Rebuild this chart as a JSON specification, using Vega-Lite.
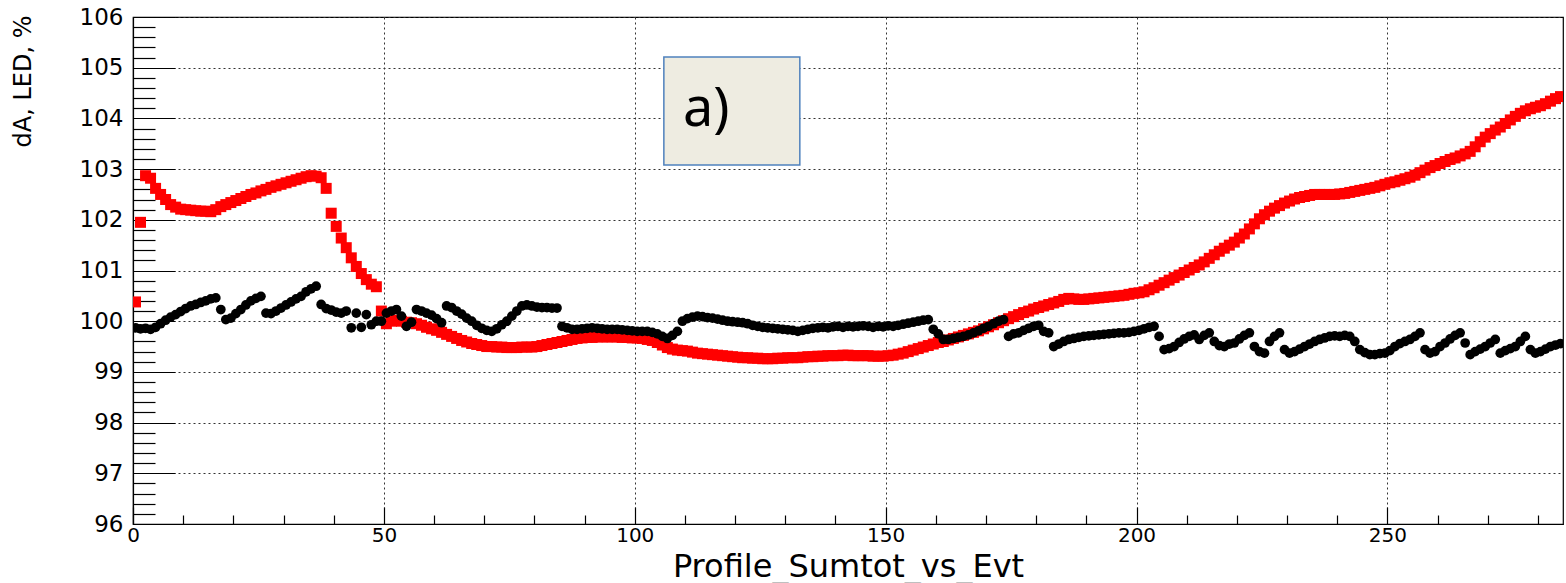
{
  "$schema": "https://vega.github.io/schema/vega-lite/v6.json",
  "autosize": "none",
  "padding": {"left": 133, "top": 17, "right": 3, "bottom": 59},
  "width": 1430,
  "height": 507,
  "background": "white",
  "config": {
    "view": {"stroke": "#000", "strokeWidth": 1.2},
    "axis": {
      "labelFont": "DejaVu Sans",
      "labelFontSize": 23,
      "labelColor": "#000",
      "labelFlush": false,
      "labelOverlap": false,
      "labelBound": false,
      "tickColor": "#000",
      "tickWidth": 1.2,
      "domainColor": "#000",
      "domainWidth": 1.2,
      "gridColor": "#333",
      "gridWidth": 1,
      "gridDash": [2, 3],
      "titleFont": "DejaVu Sans",
      "titleFontWeight": "normal",
      "titleColor": "#000"
    }
  },
  "datasets": {
    "red": [
      {"x":0.5,"v":100.38},{"x":1.5,"v":101.95},{"x":2.5,"v":102.87},{"x":3.5,"v":102.82},{"x":4.5,"v":102.62},{"x":5.5,"v":102.5},{"x":6.5,"v":102.4},{"x":7.5,"v":102.3},{"x":8.5,"v":102.25},{"x":9.5,"v":102.21},
      {"x":10.5,"v":102.2},{"x":11.5,"v":102.19},{"x":12.5,"v":102.18},{"x":13.5,"v":102.17},{"x":14.5,"v":102.17},{"x":15.5,"v":102.16},{"x":16.5,"v":102.2},{"x":17.5,"v":102.26},{"x":18.5,"v":102.3},{"x":19.5,"v":102.34},
      {"x":20.5,"v":102.38},{"x":21.5,"v":102.42},{"x":22.5,"v":102.46},{"x":23.5,"v":102.5},{"x":24.5,"v":102.53},{"x":25.5,"v":102.57},{"x":26.5,"v":102.6},{"x":27.5,"v":102.64},{"x":28.5,"v":102.67},{"x":29.5,"v":102.7},
      {"x":30.5,"v":102.73},{"x":31.5,"v":102.76},{"x":32.5,"v":102.79},{"x":33.5,"v":102.82},{"x":34.5,"v":102.85},{"x":35.5,"v":102.87},{"x":36.5,"v":102.86},{"x":37.5,"v":102.83},{"x":38.5,"v":102.62},{"x":39.5,"v":102.13},
      {"x":40.5,"v":101.87},{"x":41.5,"v":101.64},{"x":42.5,"v":101.45},{"x":43.5,"v":101.25},{"x":44.5,"v":101.08},{"x":45.5,"v":100.94},{"x":46.5,"v":100.82},{"x":47.5,"v":100.73},{"x":48.5,"v":100.68},{"x":49.5,"v":100.2},
      {"x":50.5,"v":99.95},{"x":51.5,"v":100.0},{"x":52.5,"v":100.02},{"x":53.5,"v":100.0},{"x":54.5,"v":99.98},{"x":55.5,"v":99.97},{"x":56.5,"v":99.95},{"x":57.5,"v":99.92},{"x":58.5,"v":99.88},{"x":59.5,"v":99.85},
      {"x":60.5,"v":99.82},{"x":61.5,"v":99.78},{"x":62.5,"v":99.74},{"x":63.5,"v":99.7},{"x":64.5,"v":99.66},{"x":65.5,"v":99.62},{"x":66.5,"v":99.59},{"x":67.5,"v":99.56},{"x":68.5,"v":99.54},{"x":69.5,"v":99.52},
      {"x":70.5,"v":99.5},{"x":71.5,"v":99.5},{"x":72.5,"v":99.49},{"x":73.5,"v":99.49},{"x":74.5,"v":99.48},{"x":75.5,"v":99.48},{"x":76.5,"v":99.48},{"x":77.5,"v":99.49},{"x":78.5,"v":99.49},{"x":79.5,"v":99.49},
      {"x":80.5,"v":99.5},{"x":81.5,"v":99.52},{"x":82.5,"v":99.54},{"x":83.5,"v":99.56},{"x":84.5,"v":99.58},{"x":85.5,"v":99.6},{"x":86.5,"v":99.62},{"x":87.5,"v":99.64},{"x":88.5,"v":99.66},{"x":89.5,"v":99.67},
      {"x":90.5,"v":99.68},{"x":91.5,"v":99.68},{"x":92.5,"v":99.69},{"x":93.5,"v":99.69},{"x":94.5,"v":99.69},{"x":95.5,"v":99.69},{"x":96.5,"v":99.69},{"x":97.5,"v":99.68},{"x":98.5,"v":99.68},{"x":99.5,"v":99.67},
      {"x":100.5,"v":99.67},{"x":101.5,"v":99.66},{"x":102.5,"v":99.64},{"x":103.5,"v":99.62},{"x":104.5,"v":99.58},{"x":105.5,"v":99.53},{"x":106.5,"v":99.48},{"x":107.5,"v":99.45},{"x":108.5,"v":99.43},{"x":109.5,"v":99.42},
      {"x":110.5,"v":99.41},{"x":111.5,"v":99.39},{"x":112.5,"v":99.37},{"x":113.5,"v":99.36},{"x":114.5,"v":99.35},{"x":115.5,"v":99.34},{"x":116.5,"v":99.33},{"x":117.5,"v":99.32},{"x":118.5,"v":99.31},{"x":119.5,"v":99.3},
      {"x":120.5,"v":99.29},{"x":121.5,"v":99.28},{"x":122.5,"v":99.28},{"x":123.5,"v":99.27},{"x":124.5,"v":99.27},{"x":125.5,"v":99.26},{"x":126.5,"v":99.26},{"x":127.5,"v":99.26},{"x":128.5,"v":99.27},{"x":129.5,"v":99.27},
      {"x":130.5,"v":99.28},{"x":131.5,"v":99.28},{"x":132.5,"v":99.28},{"x":133.5,"v":99.29},{"x":134.5,"v":99.3},{"x":135.5,"v":99.3},{"x":136.5,"v":99.31},{"x":137.5,"v":99.31},{"x":138.5,"v":99.32},{"x":139.5,"v":99.32},
      {"x":140.5,"v":99.32},{"x":141.5,"v":99.33},{"x":142.5,"v":99.33},{"x":143.5,"v":99.32},{"x":144.5,"v":99.32},{"x":145.5,"v":99.32},{"x":146.5,"v":99.32},{"x":147.5,"v":99.31},{"x":148.5,"v":99.31},{"x":149.5,"v":99.31},
      {"x":150.5,"v":99.32},{"x":151.5,"v":99.33},{"x":152.5,"v":99.35},{"x":153.5,"v":99.37},{"x":154.5,"v":99.4},{"x":155.5,"v":99.43},{"x":156.5,"v":99.46},{"x":157.5,"v":99.49},{"x":158.5,"v":99.52},{"x":159.5,"v":99.55},
      {"x":160.5,"v":99.58},{"x":161.5,"v":99.6},{"x":162.5,"v":99.63},{"x":163.5,"v":99.66},{"x":164.5,"v":99.69},{"x":165.5,"v":99.72},{"x":166.5,"v":99.75},{"x":167.5,"v":99.78},{"x":168.5,"v":99.81},{"x":169.5,"v":99.85},
      {"x":170.5,"v":99.89},{"x":171.5,"v":99.93},{"x":172.5,"v":99.97},{"x":173.5,"v":100.01},{"x":174.5,"v":100.05},{"x":175.5,"v":100.09},{"x":176.5,"v":100.13},{"x":177.5,"v":100.17},{"x":178.5,"v":100.2},{"x":179.5,"v":100.24},
      {"x":180.5,"v":100.27},{"x":181.5,"v":100.3},{"x":182.5,"v":100.33},{"x":183.5,"v":100.36},{"x":184.5,"v":100.39},{"x":185.5,"v":100.43},{"x":186.5,"v":100.45},{"x":187.5,"v":100.44},{"x":188.5,"v":100.43},{"x":189.5,"v":100.43},
      {"x":190.5,"v":100.44},{"x":191.5,"v":100.45},{"x":192.5,"v":100.46},{"x":193.5,"v":100.47},{"x":194.5,"v":100.48},{"x":195.5,"v":100.49},{"x":196.5,"v":100.5},{"x":197.5,"v":100.51},{"x":198.5,"v":100.53},{"x":199.5,"v":100.55},
      {"x":200.5,"v":100.56},{"x":201.5,"v":100.58},{"x":202.5,"v":100.62},{"x":203.5,"v":100.66},{"x":204.5,"v":100.71},{"x":205.5,"v":100.76},{"x":206.5,"v":100.81},{"x":207.5,"v":100.86},{"x":208.5,"v":100.91},{"x":209.5,"v":100.96},
      {"x":210.5,"v":101.01},{"x":211.5,"v":101.06},{"x":212.5,"v":101.11},{"x":213.5,"v":101.17},{"x":214.5,"v":101.24},{"x":215.5,"v":101.31},{"x":216.5,"v":101.38},{"x":217.5,"v":101.44},{"x":218.5,"v":101.5},{"x":219.5,"v":101.56},
      {"x":220.5,"v":101.64},{"x":221.5,"v":101.72},{"x":222.5,"v":101.82},{"x":223.5,"v":101.92},{"x":224.5,"v":102.02},{"x":225.5,"v":102.1},{"x":226.5,"v":102.17},{"x":227.5,"v":102.23},{"x":228.5,"v":102.28},{"x":229.5,"v":102.33},
      {"x":230.5,"v":102.37},{"x":231.5,"v":102.41},{"x":232.5,"v":102.44},{"x":233.5,"v":102.46},{"x":234.5,"v":102.48},{"x":235.5,"v":102.5},{"x":236.5,"v":102.5},{"x":237.5,"v":102.5},{"x":238.5,"v":102.5},{"x":239.5,"v":102.5},
      {"x":240.5,"v":102.51},{"x":241.5,"v":102.52},{"x":242.5,"v":102.54},{"x":243.5,"v":102.56},{"x":244.5,"v":102.58},{"x":245.5,"v":102.6},{"x":246.5,"v":102.62},{"x":247.5,"v":102.64},{"x":248.5,"v":102.67},{"x":249.5,"v":102.7},
      {"x":250.5,"v":102.73},{"x":251.5,"v":102.75},{"x":252.5,"v":102.78},{"x":253.5,"v":102.81},{"x":254.5,"v":102.84},{"x":255.5,"v":102.88},{"x":256.5,"v":102.93},{"x":257.5,"v":102.98},{"x":258.5,"v":103.03},{"x":259.5,"v":103.07},
      {"x":260.5,"v":103.11},{"x":261.5,"v":103.15},{"x":262.5,"v":103.19},{"x":263.5,"v":103.22},{"x":264.5,"v":103.26},{"x":265.5,"v":103.3},{"x":266.5,"v":103.35},{"x":267.5,"v":103.44},{"x":268.5,"v":103.54},{"x":269.5,"v":103.63},
      {"x":270.5,"v":103.7},{"x":271.5,"v":103.77},{"x":272.5,"v":103.83},{"x":273.5,"v":103.9},{"x":274.5,"v":103.97},{"x":275.5,"v":104.04},{"x":276.5,"v":104.1},{"x":277.5,"v":104.15},{"x":278.5,"v":104.19},{"x":279.5,"v":104.22},
      {"x":280.5,"v":104.25},{"x":281.5,"v":104.29},{"x":282.5,"v":104.34},{"x":283.5,"v":104.39},{"x":284.5,"v":104.43}
    ],
    "black": [
      {"x":0.5,"v":99.87},{"x":1.5,"v":99.85},{"x":2.5,"v":99.86},{"x":3.5,"v":99.84},{"x":4.5,"v":99.88},{"x":5.5,"v":99.95},{"x":6.5,"v":100.02},{"x":7.5,"v":100.08},{"x":8.5,"v":100.13},{"x":9.5,"v":100.19},
      {"x":10.5,"v":100.25},{"x":11.5,"v":100.3},{"x":12.5,"v":100.33},{"x":13.5,"v":100.37},{"x":14.5,"v":100.4},{"x":15.5,"v":100.44},{"x":16.5,"v":100.46},{"x":17.5,"v":100.23},{"x":18.5,"v":100.03},{"x":19.5,"v":100.06},
      {"x":20.5,"v":100.15},{"x":21.5,"v":100.23},{"x":22.5,"v":100.32},{"x":23.5,"v":100.4},{"x":24.5,"v":100.45},{"x":25.5,"v":100.49},{"x":26.5,"v":100.16},{"x":27.5,"v":100.15},{"x":28.5,"v":100.2},{"x":29.5,"v":100.26},
      {"x":30.5,"v":100.32},{"x":31.5,"v":100.38},{"x":32.5,"v":100.44},{"x":33.5,"v":100.49},{"x":34.5,"v":100.58},{"x":35.5,"v":100.64},{"x":36.5,"v":100.69},{"x":37.5,"v":100.33},{"x":38.5,"v":100.25},{"x":39.5,"v":100.22},
      {"x":40.5,"v":100.18},{"x":41.5,"v":100.16},{"x":42.5,"v":100.2},{"x":43.5,"v":99.87},{"x":44.5,"v":100.16},{"x":45.5,"v":99.88},{"x":46.5,"v":100.13},{"x":47.5,"v":99.93},{"x":48.5,"v":100.0},{"x":49.5,"v":100.0},
      {"x":50.5,"v":100.16},{"x":51.5,"v":100.2},{"x":52.5,"v":100.23},{"x":53.5,"v":100.1},{"x":54.5,"v":99.9},{"x":55.5,"v":99.98},{"x":56.5,"v":100.23},{"x":57.5,"v":100.2},{"x":58.5,"v":100.16},{"x":59.5,"v":100.12},
      {"x":60.5,"v":100.05},{"x":61.5,"v":99.97},{"x":62.5,"v":100.3},{"x":63.5,"v":100.27},{"x":64.5,"v":100.2},{"x":65.5,"v":100.14},{"x":66.5,"v":100.06},{"x":67.5,"v":100.0},{"x":68.5,"v":99.92},{"x":69.5,"v":99.86},
      {"x":70.5,"v":99.82},{"x":71.5,"v":99.8},{"x":72.5,"v":99.85},{"x":73.5,"v":99.93},{"x":74.5,"v":100.0},{"x":75.5,"v":100.1},{"x":76.5,"v":100.2},{"x":77.5,"v":100.3},{"x":78.5,"v":100.32},{"x":79.5,"v":100.3},
      {"x":80.5,"v":100.28},{"x":81.5,"v":100.27},{"x":82.5,"v":100.27},{"x":83.5,"v":100.26},{"x":84.5,"v":100.26},{"x":85.5,"v":99.9},{"x":86.5,"v":99.87},{"x":87.5,"v":99.84},{"x":88.5,"v":99.84},{"x":89.5,"v":99.85},
      {"x":90.5,"v":99.86},{"x":91.5,"v":99.87},{"x":92.5,"v":99.86},{"x":93.5,"v":99.85},{"x":94.5,"v":99.84},{"x":95.5,"v":99.84},{"x":96.5,"v":99.84},{"x":97.5,"v":99.83},{"x":98.5,"v":99.82},{"x":99.5,"v":99.81},
      {"x":100.5,"v":99.8},{"x":101.5,"v":99.8},{"x":102.5,"v":99.8},{"x":103.5,"v":99.78},{"x":104.5,"v":99.75},{"x":105.5,"v":99.7},{"x":106.5,"v":99.66},{"x":107.5,"v":99.72},{"x":108.5,"v":99.8},{"x":109.5,"v":100.0},
      {"x":110.5,"v":100.05},{"x":111.5,"v":100.08},{"x":112.5,"v":100.1},{"x":113.5,"v":100.09},{"x":114.5,"v":100.07},{"x":115.5,"v":100.06},{"x":116.5,"v":100.04},{"x":117.5,"v":100.02},{"x":118.5,"v":100.0},{"x":119.5,"v":99.99},
      {"x":120.5,"v":99.98},{"x":121.5,"v":99.97},{"x":122.5,"v":99.95},{"x":123.5,"v":99.92},{"x":124.5,"v":99.9},{"x":125.5,"v":99.88},{"x":126.5,"v":99.87},{"x":127.5,"v":99.86},{"x":128.5,"v":99.85},{"x":129.5,"v":99.84},
      {"x":130.5,"v":99.83},{"x":131.5,"v":99.82},{"x":132.5,"v":99.8},{"x":133.5,"v":99.82},{"x":134.5,"v":99.84},{"x":135.5,"v":99.86},{"x":136.5,"v":99.87},{"x":137.5,"v":99.88},{"x":138.5,"v":99.87},{"x":139.5,"v":99.89},
      {"x":140.5,"v":99.9},{"x":141.5,"v":99.88},{"x":142.5,"v":99.9},{"x":143.5,"v":99.89},{"x":144.5,"v":99.9},{"x":145.5,"v":99.91},{"x":146.5,"v":99.9},{"x":147.5,"v":99.88},{"x":148.5,"v":99.9},{"x":149.5,"v":99.89},
      {"x":150.5,"v":99.91},{"x":151.5,"v":99.9},{"x":152.5,"v":99.92},{"x":153.5,"v":99.94},{"x":154.5,"v":99.96},{"x":155.5,"v":99.98},{"x":156.5,"v":100.0},{"x":157.5,"v":100.02},{"x":158.5,"v":100.03},{"x":159.5,"v":99.84},
      {"x":160.5,"v":99.75},{"x":161.5,"v":99.64},{"x":162.5,"v":99.64},{"x":163.5,"v":99.66},{"x":164.5,"v":99.68},{"x":165.5,"v":99.7},{"x":166.5,"v":99.73},{"x":167.5,"v":99.77},{"x":168.5,"v":99.81},{"x":169.5,"v":99.86},
      {"x":170.5,"v":99.9},{"x":171.5,"v":99.95},{"x":172.5,"v":100.0},{"x":173.5,"v":100.03},{"x":174.5,"v":99.7},{"x":175.5,"v":99.75},{"x":176.5,"v":99.77},{"x":177.5,"v":99.82},{"x":178.5,"v":99.86},{"x":179.5,"v":99.9},
      {"x":180.5,"v":99.92},{"x":181.5,"v":99.8},{"x":182.5,"v":99.77},{"x":183.5,"v":99.5},{"x":184.5,"v":99.55},{"x":185.5,"v":99.6},{"x":186.5,"v":99.64},{"x":187.5,"v":99.66},{"x":188.5,"v":99.68},{"x":189.5,"v":99.7},
      {"x":190.5,"v":99.71},{"x":191.5,"v":99.72},{"x":192.5,"v":99.73},{"x":193.5,"v":99.74},{"x":194.5,"v":99.75},{"x":195.5,"v":99.76},{"x":196.5,"v":99.77},{"x":197.5,"v":99.77},{"x":198.5,"v":99.78},{"x":199.5,"v":99.8},
      {"x":200.5,"v":99.82},{"x":201.5,"v":99.85},{"x":202.5,"v":99.88},{"x":203.5,"v":99.9},{"x":204.5,"v":99.7},{"x":205.5,"v":99.44},{"x":206.5,"v":99.46},{"x":207.5,"v":99.5},{"x":208.5,"v":99.58},{"x":209.5,"v":99.65},
      {"x":210.5,"v":99.7},{"x":211.5,"v":99.73},{"x":212.5,"v":99.64},{"x":213.5,"v":99.72},{"x":214.5,"v":99.77},{"x":215.5,"v":99.6},{"x":216.5,"v":99.52},{"x":217.5,"v":99.5},{"x":218.5,"v":99.55},{"x":219.5,"v":99.57},
      {"x":220.5,"v":99.65},{"x":221.5,"v":99.72},{"x":222.5,"v":99.77},{"x":223.5,"v":99.5},{"x":224.5,"v":99.4},{"x":225.5,"v":99.37},{"x":226.5,"v":99.6},{"x":227.5,"v":99.7},{"x":228.5,"v":99.77},{"x":229.5,"v":99.44},
      {"x":230.5,"v":99.37},{"x":231.5,"v":99.4},{"x":232.5,"v":99.45},{"x":233.5,"v":99.5},{"x":234.5,"v":99.55},{"x":235.5,"v":99.6},{"x":236.5,"v":99.64},{"x":237.5,"v":99.67},{"x":238.5,"v":99.7},{"x":239.5,"v":99.71},
      {"x":240.5,"v":99.7},{"x":241.5,"v":99.72},{"x":242.5,"v":99.7},{"x":243.5,"v":99.6},{"x":244.5,"v":99.44},{"x":245.5,"v":99.38},{"x":246.5,"v":99.34},{"x":247.5,"v":99.34},{"x":248.5,"v":99.36},{"x":249.5,"v":99.37},
      {"x":250.5,"v":99.42},{"x":251.5,"v":99.5},{"x":252.5,"v":99.56},{"x":253.5,"v":99.6},{"x":254.5,"v":99.64},{"x":255.5,"v":99.7},{"x":256.5,"v":99.77},{"x":257.5,"v":99.44},{"x":258.5,"v":99.37},{"x":259.5,"v":99.4},
      {"x":260.5,"v":99.5},{"x":261.5,"v":99.57},{"x":262.5,"v":99.65},{"x":263.5,"v":99.72},{"x":264.5,"v":99.77},{"x":265.5,"v":99.57},{"x":266.5,"v":99.34},{"x":267.5,"v":99.4},{"x":268.5,"v":99.45},{"x":269.5,"v":99.5},
      {"x":270.5,"v":99.57},{"x":271.5,"v":99.64},{"x":272.5,"v":99.37},{"x":273.5,"v":99.42},{"x":274.5,"v":99.46},{"x":275.5,"v":99.5},{"x":276.5,"v":99.6},{"x":277.5,"v":99.7},{"x":278.5,"v":99.44},{"x":279.5,"v":99.37},
      {"x":280.5,"v":99.4},{"x":281.5,"v":99.45},{"x":282.5,"v":99.5},{"x":283.5,"v":99.53},{"x":284.5,"v":99.56}
    ],
    "note": [
      {"x0": 105.8, "x1": 132.9, "y0": 103.08, "y1": 105.21, "tx": 109.6, "ty": 104.17, "label": "a)"}
    ]
  },
  "layer": [
    {
      "data": {"name": "red"},
      "mark": {"type": "square", "color": "#ff0000", "opacity": 1, "size": 121, "clip": true},
      "encoding": {
        "x": {
          "field": "x", "type": "quantitative",
          "scale": {"domain": [0, 285], "nice": false, "zero": false},
          "axis": {
            "orient": "bottom",
            "values": [0, 50, 100, 150, 200, 250],
            "tickSize": -17,
            "labelPadding": 18,
            "labelFontSize": 20,
            "labelBaseline": "top",
            "grid": true,
            "title": "Profile_Sumtot_vs_Evt",
            "titleFontSize": 32,
            "titleX": 715,
            "titleY": 52,
            "titleAlign": "center",
            "titleBaseline": "alphabetic"
          }
        },
        "y": {
          "field": "v", "type": "quantitative",
          "scale": {"domain": [96, 106], "nice": false, "zero": false},
          "axis": {
            "orient": "left",
            "values": [96, 97, 98, 99, 100, 101, 102, 103, 104, 105, 106],
            "tickSize": -42,
            "labelPadding": 52,
            "labelBaseline": "middle",
            "grid": true,
            "title": "dA, LED, %",
            "titleFontSize": 24,
            "titleAngle": 270,
            "titleX": -110,
            "titleY": -2,
            "titleAlign": "right",
            "titleBaseline": "middle"
          }
        }
      }
    },
    {
      "data": {"name": "black"},
      "mark": {"type": "circle", "color": "#000000", "opacity": 1, "size": 95, "clip": true},
      "encoding": {
        "x": {
          "field": "x", "type": "quantitative",
          "axis": {
            "orient": "bottom",
            "values": [10, 20, 30, 40, 60, 70, 80, 90, 110, 120, 130, 140, 160, 170, 180, 190, 210, 220, 230, 240, 260, 270, 280],
            "tickSize": -9,
            "labels": false,
            "grid": false,
            "domain": false,
            "title": null
          }
        },
        "y": {
          "field": "v", "type": "quantitative",
          "axis": {
            "orient": "left",
            "values": [96.2, 96.4, 96.6, 96.8, 97.2, 97.4, 97.6, 97.8, 98.2, 98.4, 98.6, 98.8, 99.2, 99.4, 99.6, 99.8, 100.2, 100.4, 100.6, 100.8, 101.2, 101.4, 101.6, 101.8, 102.2, 102.4, 102.6, 102.8, 103.2, 103.4, 103.6, 103.8, 104.2, 104.4, 104.6, 104.8, 105.2, 105.4, 105.6, 105.8],
            "tickSize": -22,
            "labels": false,
            "grid": false,
            "domain": false,
            "title": null
          }
        }
      }
    },
    {
      "data": {"name": "note"},
      "mark": {"type": "rect", "fill": "#eeece1", "stroke": "#4f81bd", "strokeWidth": 1.5},
      "encoding": {
        "x": {"field": "x0", "type": "quantitative", "axis": null},
        "x2": {"field": "x1"},
        "y": {"field": "y0", "type": "quantitative", "axis": null},
        "y2": {"field": "y1"}
      }
    },
    {
      "data": {"name": "note"},
      "mark": {"type": "text", "font": "Noto Sans", "fontSize": 54, "color": "#000", "align": "left", "baseline": "middle"},
      "encoding": {
        "x": {"field": "tx", "type": "quantitative", "axis": null},
        "y": {"field": "ty", "type": "quantitative", "axis": null},
        "text": {"field": "label"}
      }
    }
  ],
  "resolve": {"axis": {"x": "independent", "y": "independent"}}
}
